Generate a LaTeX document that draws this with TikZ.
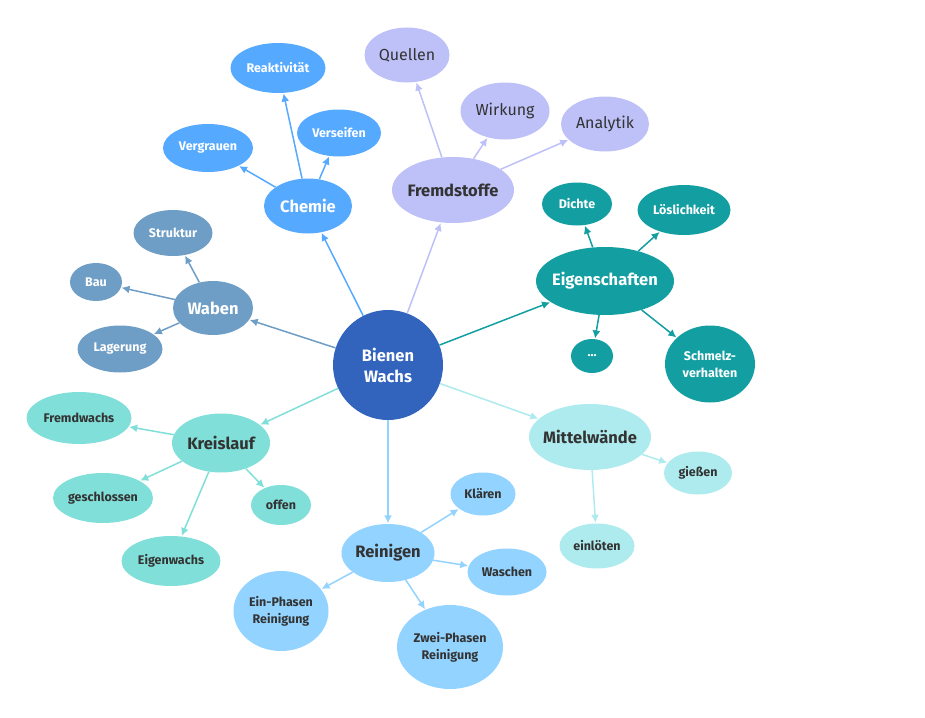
\documentclass[tikz,border=0pt]{standalone}
\usepackage{fontspec}
\setmainfont{Fira Sans}
\usetikzlibrary{shapes.geometric,arrows.meta}
\definecolor{bienenC}{HTML}{3264BE}
\definecolor{chemC}{HTML}{55A9FF}
\definecolor{fremdC}{HTML}{BEC0F8}
\definecolor{eigC}{HTML}{139EA2}
\definecolor{wabC}{HTML}{6E9DC5}
\definecolor{kreisC}{HTML}{80DFD8}
\definecolor{reinC}{HTML}{92D3FF}
\definecolor{mittC}{HTML}{AEEBEE}
\definecolor{darkT}{HTML}{333333}
\tikzset{
  ell/.style n args={2}{ellipse, minimum width=#1, minimum height=#2, inner xsep=-8pt, inner ysep=-2pt, align=center},
  big/.style={font=\bfseries\fontsize{16.5}{19}\selectfont},
  small/.style={font=\bfseries\fontsize{12.5}{17}\selectfont},
  reg/.style={font=\fontsize{16}{19}\selectfont},
  chemN/.style={fill=chemC, text=white},
  fremdN/.style={fill=fremdC, text=darkT},
  eigN/.style={fill=eigC, text=white},
  wabN/.style={fill=wabC, text=white},
  kreisN/.style={fill=kreisC, text=darkT},
  reinN/.style={fill=reinC, text=darkT},
  mittN/.style={fill=mittC, text=darkT},
  arr/.style={-{Latex[length=8pt,width=8pt]}, line width=1.5pt, shorten >=0.5pt},
}
\begin{document}
\begin{tikzpicture}[x=1pt,y=-1pt]
\useasboundingbox (0,0) rectangle (925,717);
% centre
\node[circle, minimum size=110pt, inner sep=0pt, fill=bienenC, text=white, big, align=center] (bw) at (388,365) {Bienen\\[2pt]Wachs};
% Chemie
\node[ell={88}{55}, chemN, big] (chemie) at (308,206) {Chemie};
\node[ell={95}{50}, chemN, small] (reakt) at (278,68) {Reaktivität};
\node[ell={84}{47}, chemN, small] (verseif) at (339,133) {Verseifen};
\node[ell={90}{48}, chemN, small] (vergr) at (208,148) {Vergrauen};
% Fremdstoffe
\node[ell={122}{66}, fremdN, big] (fremd) at (453,190) {Fremdstoffe};
\node[ell={85}{55}, fremdN, reg] (quell) at (407,55) {Quellen};
\node[ell={89}{57}, fremdN, reg] (wirk) at (505,111) {Wirkung};
\node[ell={88}{55}, fremdN, reg] (anal) at (605,124) {Analytik};
% Eigenschaften
\node[ell={138}{68}, eigN, big] (eig) at (605,281) {Eigenschaften};
\node[ell={70}{43}, eigN, small] (dichte) at (577,204) {Dichte};
\node[ell={93}{50}, eigN, small] (loes) at (684,210) {Löslichkeit};
\node[ell={42}{34}, eigN, small] (dots) at (592,356) {...};
\node[ell={90}{77}, eigN, small] (schm) at (710,364) {Schmelz-\\verhalten};
% Waben
\node[ell={80}{54}, wabN, big] (waben) at (213,308) {Waben};
\node[ell={79}{46}, wabN, small] (strukt) at (173,233) {Struktur};
\node[ell={52}{38}, wabN, small] (bau) at (96,282) {Bau};
\node[ell={85}{47}, wabN, small] (lager) at (120,349) {Lagerung};
% Kreislauf
\node[ell={98}{59}, kreisN, big] (kreis) at (221,443) {Kreislauf};
\node[ell={105}{52}, kreisN, small] (fremdw) at (79,418) {Fremdwachs};
\node[ell={100}{50}, kreisN, small] (geschl) at (103,498) {geschlossen};
\node[ell={60}{40}, kreisN, small] (offen) at (281,505) {offen};
\node[ell={99}{50}, kreisN, small] (eigenw) at (171,561) {Eigenwachs};
% Reinigen
\node[ell={93}{58}, reinN, big] (rein) at (388,553) {Reinigen};
\node[ell={65}{43}, reinN, small] (klaer) at (483,494) {Klären};
\node[ell={79}{47}, reinN, small] (wasch) at (507,572) {Waschen};
\node[ell={95}{80}, reinN, small] (einph) at (281,611) {Ein-Phasen\\Reinigung};
\node[ell={106}{84}, reinN, small] (zweiph) at (450,647) {Zwei-Phasen\\Reinigung};
% Mittelwaende
\node[ell={122}{66}, mittN, big] (mitt) at (590,437) {Mittelwände};
\node[ell={68}{43}, mittN, small] (giess) at (698,473) {gießen};
\node[ell={75}{45}, mittN, small] (einl) at (597,546) {einlöten};
% edges
\draw[arr, chemC] (bw) -- (chemie);
\draw[arr, chemC] (chemie) -- (reakt);
\draw[arr, chemC] (chemie) -- (verseif);
\draw[arr, chemC] (chemie) -- (vergr);
\draw[arr, fremdC] (bw) -- (fremd);
\draw[arr, fremdC] (fremd) -- (quell);
\draw[arr, fremdC] (fremd) -- (wirk);
\draw[arr, fremdC] (fremd) -- (anal);
\draw[arr, eigC] (bw) -- (eig);
\draw[arr, eigC] (eig) -- (dichte);
\draw[arr, eigC] (eig) -- (loes);
\draw[arr, eigC] (eig) -- (dots);
\draw[arr, eigC] (eig) -- (schm);
\draw[arr, wabC] (bw) -- (waben);
\draw[arr, wabC] (waben) -- (strukt);
\draw[arr, wabC] (waben) -- (bau);
\draw[arr, wabC] (waben) -- (lager);
\draw[arr, kreisC] (bw) -- (kreis);
\draw[arr, kreisC] (kreis) -- (fremdw);
\draw[arr, kreisC] (kreis) -- (geschl);
\draw[arr, kreisC] (kreis) -- (offen);
\draw[arr, kreisC] (kreis) -- (eigenw);
\draw[arr, reinC] (bw) -- (rein);
\draw[arr, reinC] (rein) -- (klaer);
\draw[arr, reinC] (rein) -- (wasch);
\draw[arr, reinC] (rein) -- (einph);
\draw[arr, reinC] (rein) -- (zweiph);
\draw[arr, mittC] (bw) -- (mitt);
\draw[arr, mittC] (mitt) -- (giess);
\draw[arr, mittC] (mitt) -- (einl);
\end{tikzpicture}
\end{document}
